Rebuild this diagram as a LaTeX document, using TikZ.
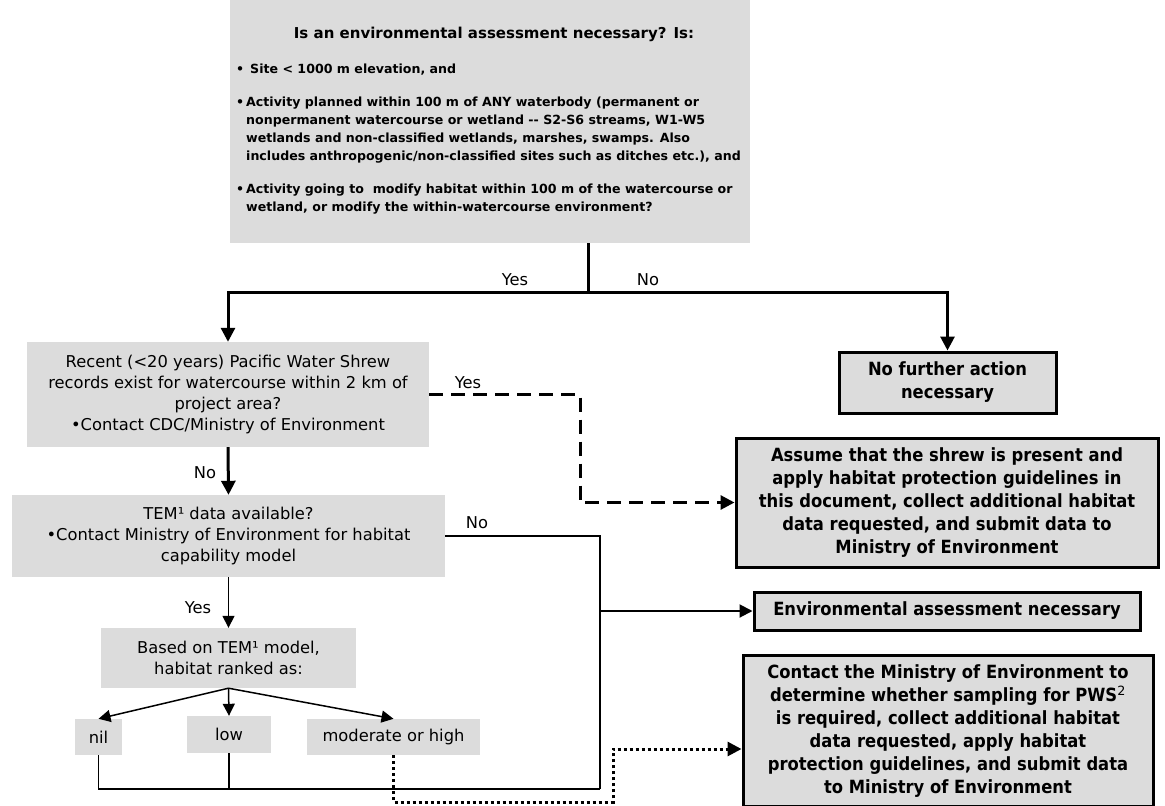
\documentclass[tikz,border=0pt]{standalone}
\usepackage{fontspec}
\setmainfont{DejaVu Sans}
\newfontfamily\cfont{DejaVu Sans Condensed}
\usetikzlibrary{arrows.meta}
\definecolor{boxgray}{RGB}{220,220,220}
\begin{document}
\begin{tikzpicture}[x=1pt,y=-1pt,
  graybox/.style={fill=boxgray, draw=none, inner sep=0pt, align=center, font=\fontsize{16.3}{21}\selectfont},
  endbox/.style={fill=boxgray, draw=black, line width=3pt, inner sep=0pt, align=center, font=\cfont\bfseries\fontsize{18.2}{23}\selectfont},
  lbl/.style={font=\fontsize{16.3}{18}\selectfont, inner sep=0pt},
  titletext/.style={font=\bfseries\fontsize{15}{17}\selectfont, inner sep=0pt, anchor=base},
  bullettext/.style={font=\bfseries\fontsize{12.6}{18}\selectfont, inner sep=0pt, anchor=base west},
  thickarrow/.style={line width=3pt, -{Triangle[length=14pt,width=14pt]}},
  medarrow/.style={line width=2pt, -{Triangle[length=13pt,width=13pt]}},
  thinarrow/.style={line width=1.5pt, -{Triangle[length=12pt,width=12pt]}},
  dashline/.style={line width=3pt, dash pattern=on 14pt off 8pt, -{Triangle[length=14pt,width=14pt]}},
  dotline/.style={line width=3pt, dash pattern=on 3pt off 3pt, -{Triangle[length=14pt,width=14pt]}}
]
\useasboundingbox (0,0) rectangle (1165,806);

% top box
\node[fill=boxgray, inner sep=0pt, minimum width=520pt, minimum height=243pt] (top) at (490,121.5) {};
\node[titletext] (t0) at (494,38) {Is an environmental assessment necessary? Is:};
\node[bullettext] (b1) at (236,73) {•};
\node[bullettext] (l1) at (250,73) {Site < 1000 m elevation, and};
\node[bullettext] (b2) at (236,106) {•};
\node[bullettext] (l2) at (246,106) {Activity planned within 100 m of ANY waterbody (permanent or};
\node[bullettext] (l3) at (246,124) {nonpermanent watercourse or wetland -{}- S2-S6 streams, W1-W5};
\node[bullettext] (l4) at (246,142) {wetlands and non-classified wetlands, marshes, swamps. Also};
\node[bullettext] (l5) at (246,160) {includes anthropogenic/non-classified sites such as ditches etc.), and};
\node[bullettext] (b3) at (236,193) {•};
\node[bullettext] (l6) at (246,193) {Activity going to\ \ modify habitat within 100 m of the watercourse or};
\node[bullettext] (l7) at (246,211) {wetland, or modify the within-watercourse environment?};

% left column
\node[graybox, minimum width=402pt, minimum height=105pt] (recent) at (228,394.5)
  {Recent (<20 years) Pacific Water Shrew\\records exist for watercourse within 2 km of\\project area?\\•Contact CDC/Ministry of Environment};
\node[graybox, minimum width=433pt, minimum height=82pt] (tem) at (228.5,536)
  {TEM¹ data available?\\•Contact Ministry of Environment for habitat\\capability model};
\node[graybox, minimum width=255pt, minimum height=60pt] (based) at (228.5,658)
  {Based on TEM¹ model,\\habitat ranked as:};
\node[graybox, minimum width=47pt, minimum height=36pt] (nil) at (98.5,737) {nil};
\node[graybox, minimum width=84pt, minimum height=37pt] (low) at (229,734.5) {low};
\node[graybox, minimum width=173pt, minimum height=36pt] (mod) at (393.5,737) {moderate or high};

% right column
\node[endbox, minimum width=217pt, minimum height=61pt] (nofurther) at (947.5,382.5)
  {No further action\\necessary};
\node[endbox, minimum width=422pt, minimum height=129pt] (assume) at (947,502.5)
  {Assume that the shrew is present and\\apply habitat protection guidelines in\\this document, collect additional habitat\\data requested, and submit data to\\Ministry of Environment};
\node[endbox, minimum width=386pt, minimum height=38pt] (ea) at (947,611)
  {Environmental assessment necessary};
\node[endbox, minimum width=410pt, minimum height=151pt] (contact) at (948,731)
  {Contact the Ministry of Environment to\\determine whether sampling for PWS\textsuperscript{\normalfont 2}\\is required, collect additional habitat\\data requested, apply habitat\\protection guidelines, and submit data\\to Ministry of Environment};

% connectors
\coordinate (j) at (588,292);
\draw[line width=3pt] (top.south -| j) -- (j);
\draw[thickarrow] (j) -| (recent.north);
\draw[thickarrow] (j) -| (nofurther.north);
\node[lbl] (yes1) at (515,280) {Yes};
\node[lbl] (no1) at (648,280) {No};

\coordinate (d1) at (580,395);
\draw[dashline] (recent.east) -- (recent.east -| d1) |- (assume.west);
\node[lbl] (yes2) at (468,383) {Yes};

\draw[thickarrow] (recent.south) -- (tem.north);
\node[lbl] (no2) at (205,473) {No};

\coordinate (vb) at (600,789);
\draw[line width=1.5pt] (tem.east) -| (vb);
\node[lbl] (no3) at (477,523) {No};
\draw[medarrow] (ea.west -| vb) -- (ea.west);

\draw[thinarrow] (tem.south) -- (based.north);
\node[lbl] (yes3) at (198,608) {Yes};

\draw[thinarrow] (based.south) -- (nil.north);
\draw[thinarrow] (based.south) -- (low.north);
\draw[thinarrow] (based.south) -- (mod.north);

\draw[line width=1.2pt] (nil.south) |- (vb);
\draw[line width=2pt] (low.south) |- (vb);

\coordinate (p1) at (613,802);
\coordinate (p2) at (613,749);
\draw[dotline] (mod.south) |- (p1) -- (p2) -- (contact.west |- p2);
\end{tikzpicture}
\end{document}
